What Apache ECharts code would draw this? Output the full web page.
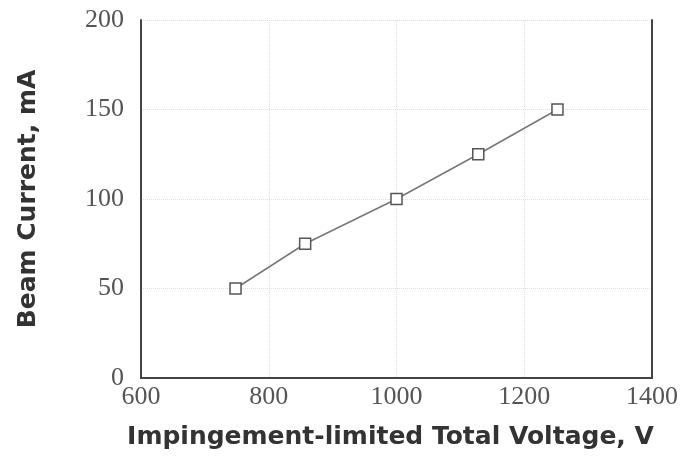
<!DOCTYPE html>
<html>
<head>
<meta charset="utf-8">
<script src="https://cdn.jsdelivr.net/npm/echarts@6/dist/echarts.min.js"></script>
<style>
  html, body { margin: 0; padding: 0; background: #fff; }
  #chart { width: 687px; height: 457px; }
</style>
</head>
<body>
<div id="chart"></div>
<script>
// Beam current versus impingement-limited total voltage
const voltage = [748, 857, 1000, 1128, 1252];
const beamCurrent = [50, 75, 100, 125, 150];
const xTicks = [600, 800, 1000, 1200, 1400];
const yTicks = [0, 50, 100, 150, 200];

const tickFont = { fontFamily: 'Liberation Serif', fontSize: 26, color: '#555' };
const titleFont = { fontFamily: 'DejaVu Sans', fontWeight: 'bold', fontSize: 25, color: '#333' };
const frameLine = { show: true, lineStyle: { color: '#444', width: 2 } };
const gridLine = { show: true, lineStyle: { color: '#ddd', type: 'dotted', width: 1 } };

// plain numbers, no thousands separator
const plain = v => String(v);

const chart = echarts.init(document.getElementById('chart'), null, { renderer: 'canvas' });
chart.setOption({
  animation: false,
  grid: { left: 141, right: 35, top: 20, bottom: 79, outerBoundsMode: 'none' },
  xAxis: [{
    type: 'value',
    min: xTicks[0], max: xTicks[xTicks.length - 1], interval: 200,
    name: 'Impingement-limited Total Voltage, V',
    nameLocation: 'middle', nameGap: 47,
    nameTextStyle: Object.assign({ padding: [0, 12, 0, 0] }, titleFont),
    axisLine: frameLine,
    axisTick: { show: false },
    axisLabel: Object.assign({ margin: 6, formatter: plain }, tickFont),
    splitLine: gridLine
  }, {
    type: 'value', position: 'top',
    min: xTicks[0], max: xTicks[xTicks.length - 1], interval: 200,
    axisLine: frameLine, axisTick: { show: false }, axisLabel: { show: false }, splitLine: { show: false }
  }],
  yAxis: [{
    type: 'value',
    min: yTicks[0], max: yTicks[yTicks.length - 1], interval: 50,
    name: 'Beam Current, mA',
    nameLocation: 'middle', nameGap: 100, nameTextStyle: titleFont,
    axisLine: frameLine,
    axisTick: { show: false },
    axisLabel: Object.assign({ margin: 17, formatter: plain }, tickFont),
    splitLine: gridLine
  }, {
    type: 'value', position: 'right',
    min: yTicks[0], max: yTicks[yTicks.length - 1], interval: 50,
    axisLine: frameLine, axisTick: { show: false }, axisLabel: { show: false }, splitLine: { show: false }
  }],
  series: [{
    type: 'line',
    data: voltage.map((v, i) => [v, beamCurrent[i]]),
    symbol: 'rect', symbolSize: 11,
    itemStyle: { color: '#fff', borderColor: '#555', borderWidth: 1.5 },
    lineStyle: { color: '#777', width: 1.5 }
  }]
});
</script>
</body>
</html>
